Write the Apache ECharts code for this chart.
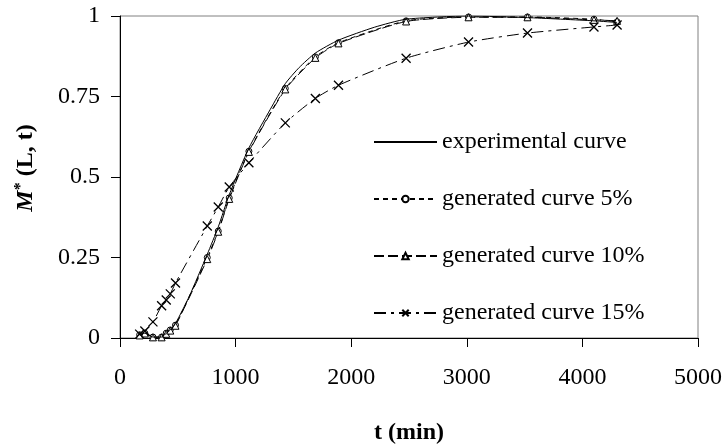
<!DOCTYPE html>
<html><head><meta charset="utf-8">
<script src="https://cdn.jsdelivr.net/npm/echarts@6/dist/echarts.min.js"></script>
<style>html,body{margin:0;padding:0;background:#fff}#c{width:725px;height:444px}</style>
</head><body><div id="c"></div>
<script>
// experimental curve
const tExp = [170, 215, 285, 360, 400, 435, 480, 600, 755, 850, 945, 1115, 1300, 1430, 1550, 1690, 1890, 2200, 2475, 3015, 3525, 4100, 4300];
const mExp = [0.01, 0.015, 0.003, 0.003, 0.015, 0.025, 0.045, 0.13, 0.26, 0.345, 0.445, 0.59, 0.71, 0.79, 0.84, 0.885, 0.925, 0.965, 0.99, 1.0, 0.995, 0.985, 0.98];
// generated curves (shared times)
const tGen = [170, 215, 285, 360, 400, 435, 480, 755, 850, 945, 1115, 1430, 1690, 1890, 2475, 3015, 3525, 4100, 4300];
const m5  = [0.01, 0.015, 0.003, 0.003, 0.015, 0.025, 0.04, 0.25, 0.332, 0.435, 0.58, 0.775, 0.873, 0.917, 0.985, 0.997, 0.997, 0.99, 0.982];
const m10 = [0.008, 0.014, 0.002, 0.002, 0.013, 0.023, 0.038, 0.245, 0.33, 0.432, 0.578, 0.772, 0.87, 0.915, 0.983, 0.996, 0.996, 0.988, 0.985];
const m15 = [0.012, 0.022, 0.05, 0.1, 0.118, 0.137, 0.171, 0.348, 0.407, 0.469, 0.544, 0.668, 0.744, 0.785, 0.869, 0.919, 0.947, 0.966, 0.972];
const seriesNames = ['experimental curve', 'generated curve 5%', 'generated curve 10%', 'generated curve 15%'];
const xTicks = [0, 1000, 2000, 3000, 4000, 5000];
const yTicks = [0, 0.25, 0.5, 0.75, 1];

const zip = (a, b) => a.map((v, i) => [v, b[i]]);
const FONT = '"Liberation Serif", "Times New Roman", serif';
const chart = echarts.init(document.getElementById('c'), null, {renderer: 'canvas'});
const crossPath = 'path://M0,0L10,10M10,0L0,10';
chart.setOption({
  animation: false,
  backgroundColor: '#fff',
  textStyle: {fontFamily: FONT, color: '#000'},
  grid: {left: 120, top: 16, right: 27, bottom: 106, show: true, borderColor: '#808080', borderWidth: 1,
    containLabel: false, outerBoundsMode: 'none'},
  legend: {
    orient: 'vertical', left: 368, top: 125, itemWidth: 63, itemHeight: 8, itemGap: 33,
    textStyle: {fontFamily: FONT, fontSize: 24, color: '#000', lineHeight: 24},
    data: [
      {name: seriesNames[0], itemStyle: {opacity: 0}},
      seriesNames[1], seriesNames[2], seriesNames[3]
    ]
  },
  xAxis: {
    type: 'value', min: xTicks[0], max: xTicks[xTicks.length - 1], interval: 1000,
    name: 't (min)', nameLocation: 'middle', nameGap: 83,
    nameTextStyle: {fontFamily: FONT, fontSize: 24, fontWeight: 'bold', color: '#000'},
    axisLine: {lineStyle: {color: '#000', width: 1}},
    axisTick: {show: true, length: 9, lineStyle: {color: '#000'}},
    axisLabel: {fontFamily: FONT, fontSize: 24, color: '#000', margin: 28, formatter: v => String(v)},
    splitLine: {show: false}
  },
  yAxis: {
    type: 'value', min: yTicks[0], max: yTicks[yTicks.length - 1], interval: 0.25,
    name: '{i|M}{s|*}{b| (L, t)}', nameLocation: 'middle', nameGap: 81, nameRotate: 90,
    nameTextStyle: {
      padding: [0, 0, 0, 18],
      rich: {
        i: {fontFamily: FONT, fontSize: 24, fontWeight: 'bold', fontStyle: 'italic', color: '#000'},
        s: {fontFamily: FONT, fontSize: 16, fontWeight: 'bold', color: '#000', verticalAlign: 'top', padding: [0, 0, 10, 0]},
        b: {fontFamily: FONT, fontSize: 24, fontWeight: 'bold', color: '#000'}
      }
    },
    axisLine: {show: true, lineStyle: {color: '#000', width: 1}},
    axisTick: {show: true, length: 9, lineStyle: {color: '#000'}},
    axisLabel: {fontFamily: FONT, fontSize: 24, color: '#000', margin: 20,
      formatter: v => String(v)},
    splitLine: {show: false}
  },
  series: [
    {name: seriesNames[0], type: 'line', data: zip(tExp, mExp), smooth: 0.2, showSymbol: false, symbol: 'none',
      lineStyle: {color: '#000', width: 1, type: 'solid'}, itemStyle: {color: '#000'}, z: 5},
    {name: seriesNames[1], type: 'line', data: zip(tGen, m5), smooth: 0.2, symbol: 'circle', symbolSize: 6,
      lineStyle: {color: '#000', width: 1, type: [5, 4]},
      itemStyle: {color: '#fff', borderColor: '#000', borderWidth: 1}},
    {name: seriesNames[2], type: 'line', data: zip(tGen, m10), smooth: 0.2, symbol: 'triangle', symbolSize: 7,
      lineStyle: {color: '#000', width: 1, type: [10, 4]},
      itemStyle: {color: '#fff', borderColor: '#000', borderWidth: 1}},
    {name: seriesNames[3], type: 'line', data: zip(tGen, m15), smooth: 0.2, symbol: crossPath, symbolSize: 9,
      lineStyle: {color: '#000', width: 1, type: [12, 5, 3, 5]},
      itemStyle: {color: 'rgba(0,0,0,0)', borderColor: '#000', borderWidth: 1.3}}
  ]
});
</script></body></html>
